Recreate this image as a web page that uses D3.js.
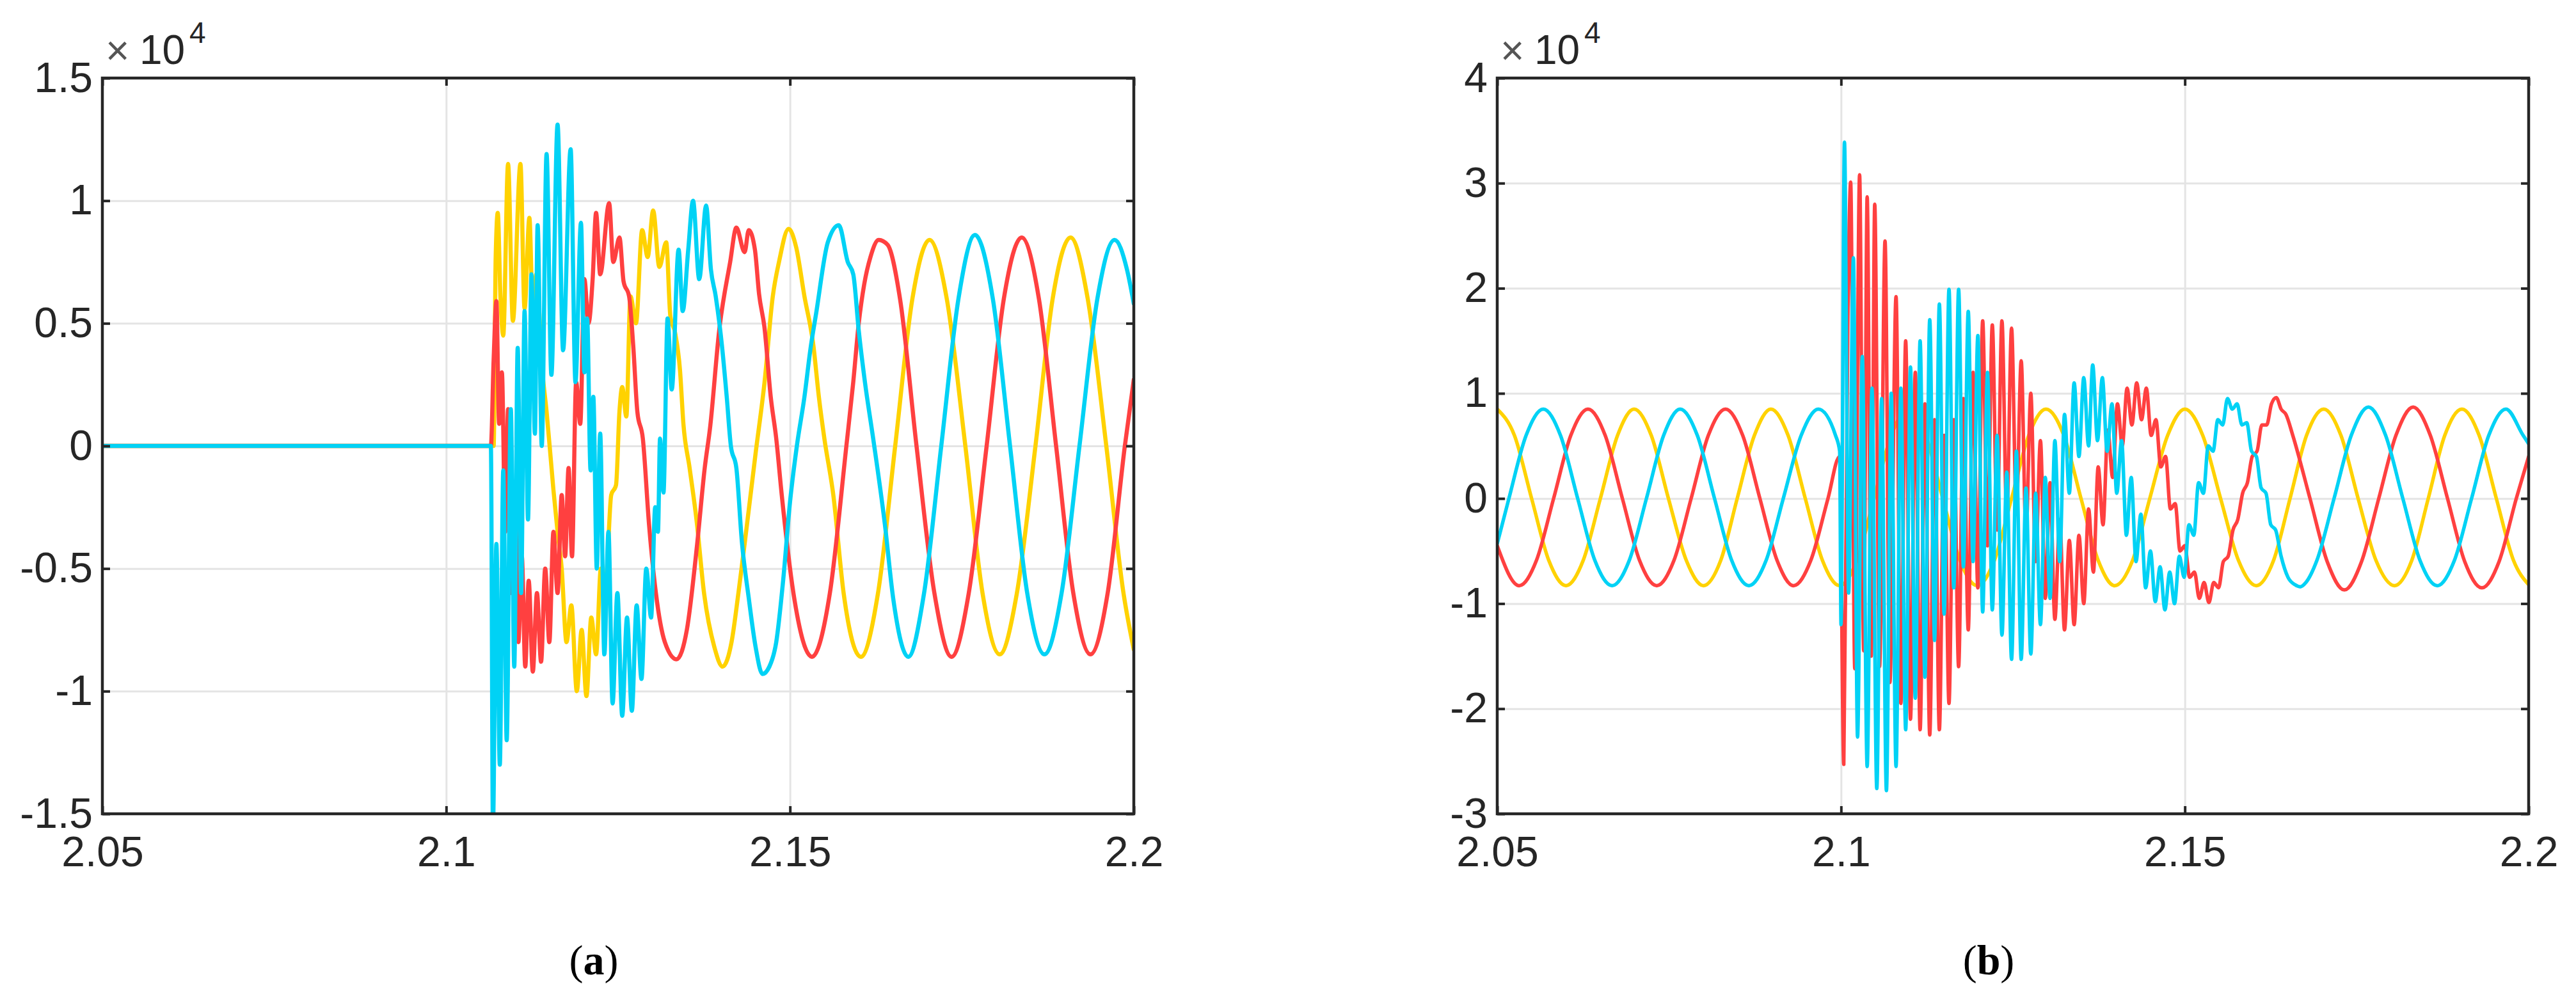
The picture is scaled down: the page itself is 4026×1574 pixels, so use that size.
<!DOCTYPE html>
<html>
<head>
<meta charset="utf-8">
<script src="https://cdn.jsdelivr.net/npm/d3@7"></script>
<style>
  body { margin: 0; background: #fff; }
  svg { display: block; }
</style>
</head>
<body>
<div id="graph"></div>
<script>
// axis ticks
const xTicks = [2.05, 2.1, 2.15, 2.2];
const xTickLabels = ["2.05", "2.1", "2.15", "2.2"];
const yTicksA = [-1.5, -1, -0.5, 0, 0.5, 1, 1.5];
const yTickLabelsA = ["-1.5", "-1", "-0.5", "0", "0.5", "1", "1.5"];
const yTicksB = [-3, -2, -1, 0, 1, 2, 3, 4];
const yTickLabelsB = ["-3", "-2", "-1", "0", "1", "2", "3", "4"];
const panelNames = ["a", "b"];

// series, [time (s), value (x 10^4)]
const yellowA = [
  [2.05,0],[2.1066,0],[2.1069,0.0],[2.1072,0.77],[2.1075,0.95],[2.1079,0.6],[2.1083,0.45],[2.1090,1.15],
  [2.1097,0.51],[2.1108,1.15],[2.1114,0.56],[2.1121,0.93],[2.1126,0.55],[2.1131,0.7],[2.1140,0.3],
  [2.1146,0.14],[2.1152,-0.05],[2.1156,-0.18],[2.1162,-0.35],[2.1168,-0.5],[2.1175,-0.8],[2.1182,-0.65],
  [2.1190,-1.0],[2.1197,-0.75],[2.1204,-1.02],[2.1211,-0.7],[2.1218,-0.85],[2.1225,-0.5],[2.1232,-0.55],
  [2.1240,-0.2],[2.1247,-0.16],[2.1252,0.14],[2.1256,0.24],[2.1262,0.12],[2.1268,0.61],[2.1276,0.5],
  [2.1285,0.88],[2.1293,0.77],[2.1301,0.96],[2.1310,0.73],[2.1320,0.83],[2.1326,0.53],[2.1333,0.46],
  [2.1340,0.31],[2.1345,0.09],[2.1354,-0.09],[2.1364,-0.3],[2.1375,-0.6],[2.1390,-0.82],[2.1402,-0.9],
  [2.1415,-0.8],[2.1425,-0.6],[2.1434,-0.4],[2.1450,-0.03],[2.1463,0.26],[2.1475,0.61],[2.1484,0.75],
  [2.1498,0.885],[2.1509,0.81],[2.1521,0.61],[2.1534,0.41],[2.1542,0.2],[2.1550,0.03],[2.1563,-0.2],
  [2.1578,-0.6],[2.1603,-0.86],[2.1628,-0.6],[2.1653,0.0],[2.1678,0.6],[2.1703,0.84],[2.1728,0.6],
  [2.1755,0.0],[2.1780,-0.6],[2.1805,-0.85],[2.1830,-0.6],[2.1857,0.0],[2.1882,0.6],[2.1908,0.85],
  [2.1933,0.6],[2.1960,0.0],[2.1985,-0.6],[2.2,-0.83]
];
const redA = [
  [2.05,0],[2.1065,0],[2.1069,0.35],[2.1073,0.59],[2.1077,0.09],[2.1081,0.3],[2.1086,-0.35],[2.1090,0.15],
  [2.1095,-0.6],[2.1100,-0.2],[2.1105,-0.8],[2.1110,-0.45],[2.1115,-0.9],[2.1120,-0.55],[2.1126,-0.92],
  [2.1132,-0.6],[2.1138,-0.88],[2.1144,-0.5],[2.1150,-0.8],[2.1156,-0.35],[2.1162,-0.6],[2.1168,-0.2],
  [2.1173,-0.45],[2.1178,-0.09],[2.1183,-0.45],[2.1189,0.26],[2.1195,0.09],[2.1201,0.68],[2.1207,0.5],
  [2.1213,0.68],[2.1218,0.95],[2.1224,0.7],[2.1237,0.99],[2.1243,0.75],[2.1252,0.85],[2.1258,0.67],
  [2.1266,0.61],[2.1272,0.41],[2.1278,0.14],[2.1286,0.03],[2.1295,-0.32],[2.1305,-0.6],[2.1318,-0.8],
  [2.1335,-0.87],[2.1350,-0.75],[2.1365,-0.4],[2.1376,-0.09],[2.1384,0.08],[2.1397,0.47],[2.1413,0.75],
  [2.1422,0.89],[2.1434,0.79],[2.1440,0.88],[2.1449,0.8],[2.1455,0.62],[2.1463,0.48],[2.1472,0.2],
  [2.1480,0.03],[2.1488,-0.2],[2.1505,-0.6],[2.1532,-0.86],[2.1558,-0.6],[2.1582,0.0],[2.1592,0.26],
  [2.1600,0.5],[2.1608,0.66],[2.1617,0.77],[2.1629,0.84],[2.1642,0.82],[2.1660,0.6],[2.1684,0.0],
  [2.1710,-0.6],[2.1735,-0.86],[2.1760,-0.6],[2.1786,0.0],[2.1811,0.6],[2.1837,0.85],[2.1862,0.6],
  [2.1887,0.0],[2.1912,-0.6],[2.1937,-0.85],[2.1962,-0.6],[2.1987,0.0],[2.2,0.27]
];
const cyanA = [
  [2.05,0],[2.1065,0],[2.1068,-1.55],[2.1073,-0.4],[2.1078,-1.3],[2.1083,-0.1],[2.1088,-1.2],[2.1094,0.15],
  [2.1099,-0.9],[2.1104,0.4],[2.1109,-0.6],[2.1114,0.55],[2.1119,-0.3],[2.1124,0.7],[2.1129,0.05],
  [2.1133,0.9],[2.1139,0.0],[2.1146,1.19],[2.1153,0.29],[2.1162,1.31],[2.1170,0.39],[2.1181,1.21],
  [2.1188,0.26],[2.1196,0.91],[2.1201,0.3],[2.1205,0.52],[2.1210,-0.1],[2.1214,0.2],[2.1219,-0.5],
  [2.1224,0.05],[2.1230,-0.85],[2.1236,-0.35],[2.1242,-1.05],[2.1249,-0.6],[2.1256,-1.1],[2.1263,-0.7],
  [2.1270,-1.08],[2.1277,-0.65],[2.1284,-0.95],[2.1291,-0.5],[2.1298,-0.7],[2.1304,-0.25],[2.1308,-0.35],
  [2.1311,0.03],[2.1316,-0.19],[2.1322,0.52],[2.1328,0.23],[2.1338,0.8],[2.1344,0.55],[2.1352,0.8],
  [2.1359,1.0],[2.1368,0.68],[2.1378,0.98],[2.1385,0.72],[2.1392,0.61],[2.1401,0.41],[2.1408,0.2],
  [2.1414,0.0],[2.1422,-0.09],[2.1430,-0.39],[2.1440,-0.62],[2.1450,-0.82],[2.1460,-0.93],[2.1470,-0.9],
  [2.1480,-0.8],[2.1490,-0.55],[2.1500,-0.23],[2.1510,0.0],[2.1521,0.2],[2.1530,0.4],[2.1538,0.54],
  [2.1555,0.83],[2.1571,0.9],[2.1584,0.75],[2.1592,0.7],[2.1600,0.47],[2.1609,0.26],[2.1621,0.03],
  [2.1638,-0.32],[2.1650,-0.62],[2.1672,-0.86],[2.1695,-0.6],[2.1720,0.0],[2.1745,0.6],[2.1769,0.86],
  [2.1795,0.6],[2.1820,0.0],[2.1845,-0.6],[2.1870,-0.85],[2.1895,-0.6],[2.1921,0.0],[2.1947,0.6],
  [2.1972,0.84],[2.1990,0.72],[2.2,0.58]
];

const yellowB = [
  [2.05,0.85],[2.0525,0.6],[2.055,0.0],[2.0575,-0.59],[2.06,-0.83],[2.0625,-0.59],[2.065,0.0],[2.0675,0.6],
  [2.0699,0.85],[2.0724,0.6],[2.0749,0.0],[2.0775,-0.59],[2.08,-0.83],[2.0825,-0.59],[2.0849,0.0],
  [2.0874,0.6],[2.0898,0.85],[2.0923,0.6],[2.0948,0.0],[2.0973,-0.59],[2.0998,-0.83],[2.1023,-0.59],
  [2.1048,0.0],[2.1073,0.6],[2.1098,0.85],[2.1123,0.6],[2.1148,0.0],[2.1173,-0.59],[2.1198,-0.83],
  [2.1223,-0.59],[2.1248,0.0],[2.1273,0.6],[2.1298,0.85],[2.1324,0.6],[2.1349,0.0],[2.1374,-0.59],
  [2.1398,-0.83],[2.1424,-0.59],[2.1449,0.0],[2.1475,0.6],[2.15,0.85],[2.1526,0.6],[2.1552,0.0],
  [2.1578,-0.59],[2.1604,-0.83],[2.1629,-0.59],[2.1653,0.0],[2.1677,0.6],[2.1702,0.85],[2.1727,0.6],
  [2.1752,0.0],[2.1778,-0.59],[2.1805,-0.83],[2.1830,-0.59],[2.1854,0.0],[2.1878,0.6],[2.1903,0.85],
  [2.1928,0.6],[2.1953,0.0],[2.1978,-0.59],[2.2,-0.82]
];
const redB = [
  [2.05,-0.45],[2.0532,-0.83],[2.0557,-0.59],[2.0582,0.0],[2.0607,0.6],[2.0632,0.85],[2.0657,0.6],
  [2.0682,0.0],[2.0707,-0.59],[2.0732,-0.83],[2.0757,-0.59],[2.0782,0.0],[2.0807,0.6],[2.0832,0.85],
  [2.0857,0.6],[2.0882,0.0],[2.0907,-0.59],[2.0931,-0.83],[2.0956,-0.59],[2.0981,0.0],[2.0998,0.4],
  [2.1004,-2.53],[2.1010,1.8],[2.1014,3.01],[2.1020,-1.62],[2.1027,3.08],[2.1033,-1.45],[2.1038,2.87],
  [2.1044,-1.5],[2.1049,2.8],[2.1056,-1.6],[2.1064,2.45],[2.1071,-1.75],[2.1080,1.92],[2.1087,-1.95],
  [2.1094,1.5],[2.1101,-2.1],[2.1108,1.2],[2.1115,-2.2],[2.1122,0.9],[2.1129,-2.25],[2.1136,0.75],
  [2.1143,-2.2],[2.1150,0.6],[2.1157,-1.95],[2.1164,0.75],[2.1171,-1.6],[2.1178,0.95],[2.1185,-1.25],
  [2.1192,1.2],[2.1199,-0.85],[2.1206,1.69],[2.1213,-0.45],[2.1220,1.65],[2.1227,-0.3],[2.1234,1.69],
  [2.1241,-0.2],[2.1248,1.62],[2.1255,-0.15],[2.1262,1.31],[2.1269,-0.35],[2.1276,1.0],[2.1283,-0.6],
  [2.1290,0.55],[2.1297,-0.95],[2.1304,0.15],[2.1311,-1.15],[2.1318,-0.2],[2.1325,-1.25],[2.1332,-0.4],
  [2.1339,-1.2],[2.1346,-0.35],[2.1353,-1.0],[2.1360,-0.1],[2.1367,-0.7],[2.1374,0.3],[2.1381,-0.25],
  [2.1388,0.65],[2.1395,0.2],[2.1402,0.9],[2.1409,0.5],[2.1416,1.05],[2.1423,0.7],[2.1430,1.1],
  [2.1437,0.75],[2.1444,1.05],[2.1451,0.6],[2.1458,0.75],[2.1465,0.3],[2.1472,0.4],[2.1479,-0.1],
  [2.1486,-0.05],[2.1493,-0.5],[2.1500,-0.45],[2.1507,-0.75],[2.1514,-0.7],[2.1521,-0.95],[2.1528,-0.8],
  [2.1535,-0.99],[2.1542,-0.8],[2.1549,-0.85],[2.1556,-0.6],[2.1563,-0.55],[2.1570,-0.3],[2.1577,-0.2],
  [2.1584,0.05],[2.1591,0.15],[2.1598,0.4],[2.1605,0.45],[2.1612,0.7],[2.1619,0.7],[2.1626,0.9],
  [2.1633,0.96],[2.1640,0.85],[2.1647,0.8],[2.1657,0.6],[2.1682,0.0],[2.1707,-0.6],[2.1732,-0.87],
  [2.1757,-0.6],[2.1782,0.0],[2.1807,0.6],[2.1832,0.87],[2.1857,0.6],[2.1882,0.0],[2.1907,-0.6],
  [2.1932,-0.85],[2.1957,-0.6],[2.1982,0.0],[2.2,0.4]
];
const cyanB = [
  [2.05,-0.43],[2.0517,0.0],[2.0542,0.6],[2.0567,0.85],[2.0592,0.6],[2.0617,0.0],[2.0642,-0.59],
  [2.0667,-0.83],[2.0692,-0.59],[2.0717,0.0],[2.0742,0.6],[2.0766,0.85],[2.0791,0.6],[2.0816,0.0],
  [2.0841,-0.59],[2.0866,-0.83],[2.0891,-0.59],[2.0916,0.0],[2.0942,0.6],[2.0967,0.85],[2.0992,0.6],
  [2.0998,0.45],[2.1000,-1.2],[2.1005,3.39],[2.1011,-0.9],[2.1018,2.29],[2.1024,-2.27],[2.1031,1.35],
  [2.1038,-2.55],[2.1045,1.05],[2.1052,-2.76],[2.1059,0.95],[2.1066,-2.78],[2.1073,1.0],[2.1080,-2.55],
  [2.1087,1.05],[2.1094,-2.2],[2.1101,1.25],[2.1108,-1.9],[2.1115,1.5],[2.1122,-1.7],[2.1129,1.7],
  [2.1136,-1.35],[2.1143,1.85],[2.1150,-1.1],[2.1157,1.99],[2.1164,-0.85],[2.1171,1.99],[2.1178,-0.65],
  [2.1185,1.78],[2.1192,-0.6],[2.1199,1.55],[2.1206,-1.08],[2.1213,1.2],[2.1220,-1.06],[2.1227,0.6],
  [2.1234,-1.3],[2.1241,0.25],[2.1248,-1.53],[2.1255,0.45],[2.1262,-1.53],[2.1269,0.1],[2.1276,-1.48],
  [2.1283,0.05],[2.1290,-1.2],[2.1297,0.2],[2.1304,-0.95],[2.1311,0.55],[2.1318,-0.6],[2.1325,0.8],
  [2.1332,0.05],[2.1339,1.1],[2.1346,0.4],[2.1353,1.15],[2.1360,0.5],[2.1366,1.27],[2.1373,0.55],
  [2.1380,1.15],[2.1387,0.45],[2.1394,0.9],[2.1401,0.05],[2.1408,0.55],[2.1415,-0.35],[2.1422,0.2],
  [2.1429,-0.6],[2.1436,-0.15],[2.1443,-0.85],[2.1450,-0.5],[2.1457,-0.98],[2.1464,-0.65],[2.1471,-1.06],
  [2.1478,-0.7],[2.1485,-1.0],[2.1492,-0.55],[2.1499,-0.75],[2.1506,-0.25],[2.1513,-0.35],[2.1520,0.15],
  [2.1527,0.05],[2.1534,0.5],[2.1541,0.45],[2.1548,0.75],[2.1555,0.7],[2.1562,0.95],[2.1569,0.85],
  [2.1576,0.9],[2.1583,0.7],[2.1590,0.72],[2.1597,0.45],[2.1604,0.4],[2.1611,0.1],[2.1618,0.05],
  [2.1625,-0.25],[2.1632,-0.3],[2.1640,-0.55],[2.1650,-0.75],[2.1660,-0.82],[2.1668,-0.84],[2.1676,-0.8],
  [2.1692,-0.59],[2.1717,0.0],[2.1742,0.6],[2.1767,0.87],[2.1792,0.6],[2.1817,0.0],[2.1842,-0.59],
  [2.1867,-0.83],[2.1892,-0.59],[2.1917,0.0],[2.1942,0.6],[2.1967,0.85],[2.1992,0.6],[2.2,0.52]
];

const colors = { yellow: "#ffd200", red: "#ff4040", cyan: "#00d2f5" };
const textColor = "#262626";
const font = "'Liberation Sans', Arial, sans-serif";

function main() {
    const container = document.getElementById("graph");
    const svg = d3.create("svg").attr("width", 4026).attr("height", 1574);
    svg.append("rect").attr("width", 4026).attr("height", 1574).attr("fill", "#fff");

    const margin = { top: 122, bottom: 302 };
    const height = +svg.attr("height") - margin.top - margin.bottom;
    const width = 1612;

    const panels = [
        { left: 160, yDomain: [-1.5, 1.5], yTicks: yTicksA, yLabels: yTickLabelsA,
          series: [[yellowA, colors.yellow], [redA, colors.red], [cyanA, colors.cyan]], lineWidth: 6.5, labelX: 928 },
        { left: 2340, yDomain: [-3, 4], yTicks: yTicksB, yLabels: yTickLabelsB,
          series: [[yellowB, colors.yellow], [redB, colors.red], [cyanB, colors.cyan]], lineWidth: 5.5, labelX: 3108 }
    ];

    panels.forEach((p, i) => {
        const g = svg.append("g").attr("transform", `translate(${p.left},${margin.top})`);

        const x = d3.scaleLinear().domain([2.05, 2.2]).range([0, width]);
        const y = d3.scaleLinear().domain(p.yDomain).range([height, 0]);

        // grid
        g.append("g")
            .call(d3.axisLeft(y).tickValues(p.yTicks).tickSize(-width).tickFormat(""))
            .call(a => a.select(".domain").remove())
            .selectAll("line").attr("stroke", "#e4e4e4").attr("stroke-width", 3);
        g.append("g")
            .attr("transform", `translate(0,${height})`)
            .call(d3.axisBottom(x).tickValues(xTicks).tickSize(-height).tickFormat(""))
            .call(a => a.select(".domain").remove())
            .selectAll("line").attr("stroke", "#e4e4e4").attr("stroke-width", 3);

        // lines
        g.append("clipPath").attr("id", "clip" + i)
            .append("rect").attr("width", width).attr("height", height);

        const line = d3.line()
            .x(d => x(d[0]))
            .y(d => y(d[1]))
            .curve(d3.curveMonotoneX);

        const gLines = g.append("g").attr("clip-path", `url(#clip${i})`);
        p.series.forEach(([data, color]) => {
            gLines.append("path")
                .datum(data)
                .attr("d", line)
                .attr("fill", "none")
                .attr("stroke", color)
                .attr("stroke-width", p.lineWidth)
                .attr("stroke-linejoin", "round")
                .attr("stroke-linecap", "round");
        });

        // axes, ticks pointing inwards like matlab
        const styleAxis = a => {
            a.select(".domain").remove();
            a.selectAll("line").attr("stroke", textColor).attr("stroke-width", 4);
            a.selectAll("text").attr("fill", textColor);
            a.attr("font-size", 66).attr("font-family", font);
        };
        g.append("g")
            .call(d3.axisLeft(y).tickValues(p.yTicks).tickSize(-12).tickPadding(15)
                .tickFormat((d, k) => p.yLabels[k]))
            .call(styleAxis);
        g.append("g")
            .attr("transform", `translate(0,${height})`)
            .call(d3.axisBottom(x).tickValues(xTicks).tickSize(-12).tickPadding(35)
                .tickFormat((d, k) => xTickLabels[k]))
            .call(styleAxis);
        g.append("g")
            .attr("transform", `translate(${width},0)`)
            .call(d3.axisRight(y).tickValues(p.yTicks).tickSize(-12).tickFormat(""))
            .call(styleAxis);
        g.append("g")
            .call(d3.axisTop(x).tickValues(xTicks).tickSize(-12).tickFormat(""))
            .call(styleAxis);

        g.append("rect")
            .attr("width", width).attr("height", height)
            .attr("fill", "none").attr("stroke", textColor).attr("stroke-width", 4.5);

        // exponent
        const expo = g.append("text")
            .attr("font-family", font).attr("font-size", 64).attr("fill", textColor);
        expo.append("tspan").attr("x", 5).attr("y", -21).attr("fill", "#555").text("×");
        expo.append("tspan").attr("x", 58).attr("y", -22).text("10");
        expo.append("tspan").attr("x", 136).attr("y", -55).attr("font-size", 46).text("4");

        // panel label
        const lab = svg.append("text")
            .attr("x", p.labelX).attr("y", 1523)
            .attr("text-anchor", "middle")
            .attr("font-family", "'Liberation Serif', 'Times New Roman', serif")
            .attr("font-size", 66).attr("fill", "#000");
        lab.append("tspan").text("(");
        lab.append("tspan").attr("font-weight", "bold").text(panelNames[i]);
        lab.append("tspan").text(")");
    });

    container.appendChild(svg.node());
}

main()
</script>
</body>
</html>
